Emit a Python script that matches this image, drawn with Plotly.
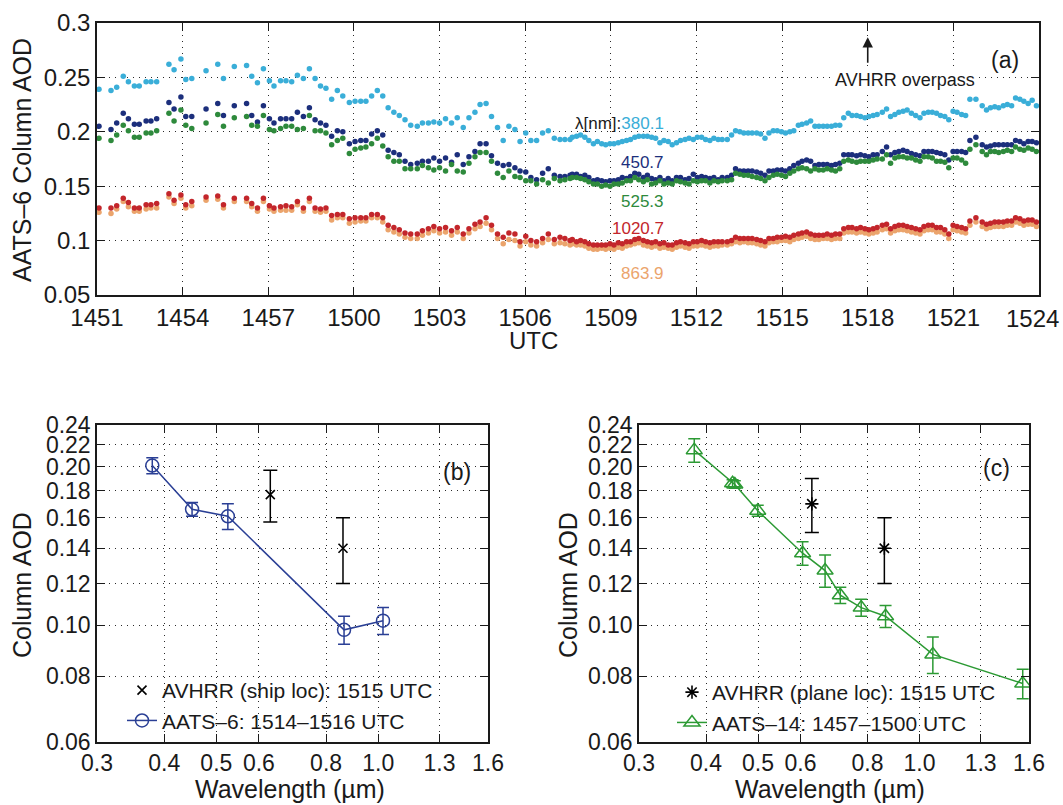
import plotly.graph_objects as go
import math

FONT = "Liberation Sans, Arial, sans-serif"

# ---------------- panel (a): AATS-6 column AOD time series ----------------
# time in minutes after 14:00 UTC
utc_min = [
    51.07, 51.49, 51.69, 51.92, 52.10, 52.31, 52.48, 52.72, 52.89, 53.09,
    53.52, 53.70, 53.94, 54.11, 54.32, 54.82, 55.23, 55.43, 55.81, 56.24,
    56.42, 56.62,
    56.83, 57.04, 57.20, 57.43, 57.62, 57.82, 58.02, 58.23, 58.44, 58.64,
    58.83, 59.02, 59.22, 59.42, 59.61, 59.84, 60.04, 60.24, 60.42, 60.62,
    60.82, 61.01, 61.20, 61.40, 61.59, 61.79, 61.99,
    62.22, 62.40, 62.61, 62.80, 63.00, 63.21, 63.42, 63.62, 63.83, 64.03,
    64.24, 64.42, 64.63, 64.82, 65.03, 65.23, 65.43, 65.64, 65.82, 66.02,
    66.20, 66.40, 66.61, 66.81, 67.02, 67.22, 67.39, 67.57,
    67.65, 67.80, 67.94, 68.09, 68.23, 68.39, 68.53, 68.68, 68.82, 68.97,
    69.11, 69.26, 69.40, 69.55, 69.69, 69.84, 69.98, 70.14, 70.28, 70.43,
    70.57, 70.72, 70.86, 71.01, 71.15, 71.30, 71.44, 71.60, 71.74, 71.89,
    72.03, 72.18, 72.32, 72.47, 72.61, 72.76, 72.90,
    73.08, 73.23, 73.37, 73.52, 73.66, 73.81, 73.95, 74.11, 74.25, 74.40,
    74.54, 74.69, 74.83, 74.98, 75.12, 75.27, 75.41, 75.57, 75.70, 75.86,
    76.00, 76.15, 76.29, 76.44, 76.58, 76.73, 76.87, 77.02, 77.16, 77.32,
    77.45, 77.61, 77.75, 77.90, 78.04, 78.19, 78.33,
    78.51, 78.66, 78.80, 78.95, 79.09, 79.24, 79.38, 79.53, 79.68, 79.83,
    79.97, 80.12, 80.26, 80.41, 80.55, 80.70, 80.84, 80.99, 81.13, 81.29,
    81.43, 81.58, 81.79, 82.01, 82.16, 82.30, 82.45, 82.59, 82.75, 82.89,
    83.04, 83.18, 83.33, 83.47, 83.62, 83.76, 83.91,
]

aod_380 = [
    0.239, 0.238, 0.241, 0.251, 0.246, 0.242, 0.242, 0.246, 0.246, 0.246,
    0.262, 0.257, 0.267, 0.248, 0.249, 0.256, 0.262, 0.249, 0.260, 0.261,
    0.251, 0.245,
    0.258, 0.247, 0.242, 0.247, 0.247, 0.246, 0.252, 0.249, 0.258, 0.249,
    0.242, 0.240, 0.230, 0.238, 0.233, 0.227, 0.228, 0.228, 0.228, 0.233,
    0.238, 0.233, 0.222, 0.218, 0.215, 0.211, 0.206,
    0.205, 0.208, 0.208, 0.209, 0.208, 0.212, 0.208, 0.213, 0.204, 0.213,
    0.218, 0.225, 0.226, 0.214, 0.204, 0.192, 0.205, 0.202, 0.191, 0.199,
    0.192, 0.192, 0.199, 0.201, 0.194, 0.193, 0.193, 0.193,
    0.195, 0.196, 0.197, 0.195, 0.192, 0.189, 0.191, 0.189, 0.188, 0.189,
    0.189, 0.190, 0.191, 0.192, 0.193, 0.195, 0.196, 0.196, 0.196, 0.195,
    0.194, 0.190, 0.192, 0.191, 0.188, 0.190, 0.192, 0.193, 0.194, 0.193,
    0.195, 0.195, 0.193, 0.192, 0.194, 0.193, 0.193,
    0.193, 0.197, 0.201, 0.200, 0.199, 0.199, 0.199, 0.199, 0.198, 0.194,
    0.199, 0.201, 0.201, 0.200, 0.199, 0.200, 0.201, 0.206, 0.207, 0.208,
    0.210, 0.205, 0.205, 0.205, 0.205, 0.205, 0.206, 0.206, 0.213, 0.217,
    0.215, 0.215, 0.214, 0.213, 0.214, 0.215, 0.216,
    0.218, 0.221, 0.214, 0.216, 0.218, 0.219, 0.220, 0.217, 0.215, 0.213,
    0.217, 0.218, 0.218, 0.217, 0.215, 0.214, 0.211, 0.219, 0.218, 0.216,
    0.215, 0.230, 0.230, 0.224, 0.220, 0.222, 0.223, 0.222, 0.224, 0.225,
    0.224, 0.231, 0.230, 0.228, 0.226, 0.229, 0.224,
]

aod_451 = [
    0.205, 0.202, 0.208, 0.217, 0.212, 0.207, 0.207, 0.210, 0.210, 0.212,
    0.227, 0.221, 0.232, 0.214, 0.214, 0.221, 0.226, 0.215, 0.224, 0.226,
    0.215, 0.209,
    0.224, 0.212, 0.208, 0.212, 0.212, 0.212, 0.218, 0.214, 0.222, 0.211,
    0.208, 0.206, 0.196, 0.201, 0.200, 0.189, 0.191, 0.192, 0.192, 0.198,
    0.201, 0.197, 0.183, 0.181, 0.179, 0.173, 0.170,
    0.171, 0.173, 0.173, 0.176, 0.173, 0.176, 0.172, 0.179, 0.170, 0.177,
    0.182, 0.189, 0.189, 0.178, 0.171, 0.169, 0.170, 0.167, 0.164, 0.163,
    0.158, 0.156, 0.162, 0.166, 0.160, 0.159, 0.159, 0.160,
    0.161, 0.161, 0.159, 0.160, 0.158, 0.155, 0.156, 0.155, 0.154, 0.155,
    0.155, 0.156, 0.158, 0.157, 0.159, 0.162, 0.161, 0.158, 0.160, 0.157,
    0.156, 0.158, 0.155, 0.157, 0.155, 0.158, 0.158, 0.156, 0.157, 0.161,
    0.158, 0.159, 0.158, 0.157, 0.158, 0.156, 0.158,
    0.158, 0.160, 0.166, 0.164, 0.164, 0.164, 0.164, 0.163, 0.162, 0.160,
    0.164, 0.164, 0.165, 0.165, 0.164, 0.166, 0.169, 0.171, 0.173, 0.174,
    0.173, 0.169, 0.170, 0.170, 0.170, 0.169, 0.170, 0.171, 0.179, 0.179,
    0.179, 0.178, 0.179, 0.178, 0.177, 0.179, 0.179,
    0.182, 0.186, 0.179, 0.181, 0.182, 0.183, 0.182, 0.180, 0.179, 0.178,
    0.182, 0.182, 0.182, 0.181, 0.180, 0.179, 0.174, 0.182, 0.182, 0.182,
    0.181, 0.192, 0.195, 0.188, 0.186, 0.187, 0.188, 0.188, 0.188, 0.188,
    0.188, 0.192, 0.191, 0.189, 0.191, 0.191, 0.190,
]

aod_525 = [
    0.194, 0.192, 0.197, 0.206, 0.201, 0.195, 0.195, 0.199, 0.199, 0.201,
    0.217, 0.210, 0.220, 0.206, 0.203, 0.208, 0.216, 0.205, 0.213, 0.214,
    0.206, 0.205,
    0.215, 0.202, 0.201, 0.203, 0.205, 0.205, 0.202, 0.203, 0.215, 0.201,
    0.201, 0.199, 0.188, 0.192, 0.194, 0.180, 0.184, 0.185, 0.186, 0.189,
    0.194, 0.187, 0.177, 0.173, 0.173, 0.166, 0.166,
    0.166, 0.169, 0.167, 0.165, 0.167, 0.164, 0.170, 0.164, 0.163, 0.171,
    0.177, 0.181, 0.181, 0.173, 0.162, 0.158, 0.164, 0.159, 0.158, 0.155,
    0.155, 0.152, 0.156, 0.153, 0.157, 0.155, 0.156, 0.157,
    0.158, 0.158, 0.157, 0.156, 0.154, 0.152, 0.152, 0.150, 0.151, 0.150,
    0.152, 0.152, 0.153, 0.155, 0.155, 0.158, 0.156, 0.154, 0.156, 0.152,
    0.153, 0.155, 0.152, 0.153, 0.152, 0.155, 0.154, 0.153, 0.152, 0.155,
    0.154, 0.155, 0.155, 0.153, 0.155, 0.154, 0.155,
    0.155, 0.156, 0.162, 0.161, 0.160, 0.160, 0.159, 0.158, 0.157, 0.155,
    0.158, 0.160, 0.161, 0.160, 0.159, 0.162, 0.164, 0.166, 0.167, 0.166,
    0.164, 0.166, 0.165, 0.165, 0.166, 0.165, 0.164, 0.166, 0.173, 0.174,
    0.173, 0.172, 0.173, 0.173, 0.173, 0.174, 0.175,
    0.175, 0.179, 0.171, 0.176, 0.177, 0.177, 0.176, 0.176, 0.174, 0.173,
    0.177, 0.177, 0.176, 0.173, 0.173, 0.172, 0.167, 0.176, 0.176, 0.174,
    0.171, 0.184, 0.188, 0.182, 0.179, 0.182, 0.182, 0.181, 0.182, 0.183,
    0.182, 0.186, 0.184, 0.183, 0.185, 0.184, 0.182,
]

aod_864 = [
    0.126, 0.125, 0.129, 0.136, 0.131, 0.127, 0.127, 0.129, 0.130, 0.130,
    0.140, 0.134, 0.139, 0.130, 0.132, 0.137, 0.138, 0.130, 0.136, 0.136,
    0.131, 0.127,
    0.136, 0.129, 0.127, 0.128, 0.128, 0.128, 0.133, 0.127, 0.136, 0.127,
    0.126, 0.127, 0.119, 0.121, 0.121, 0.116, 0.117, 0.118, 0.118, 0.121,
    0.121, 0.117, 0.110, 0.108, 0.106, 0.103, 0.102,
    0.102, 0.105, 0.107, 0.109, 0.107, 0.108, 0.105, 0.108, 0.102, 0.107,
    0.111, 0.113, 0.116, 0.110, 0.102, 0.097, 0.101, 0.100, 0.095, 0.099,
    0.096, 0.095, 0.098, 0.101, 0.097, 0.098, 0.097, 0.096,
    0.097, 0.096, 0.096, 0.095, 0.093, 0.092, 0.092, 0.093, 0.092, 0.093,
    0.092, 0.094, 0.093, 0.095, 0.096, 0.097, 0.098, 0.096, 0.095, 0.094,
    0.095, 0.093, 0.094, 0.093, 0.092, 0.094, 0.095, 0.094, 0.093, 0.095,
    0.095, 0.096, 0.095, 0.094, 0.095, 0.095, 0.096,
    0.096, 0.097, 0.099, 0.098, 0.099, 0.098, 0.098, 0.097, 0.096, 0.095,
    0.098, 0.099, 0.099, 0.100, 0.100, 0.099, 0.101, 0.102, 0.103, 0.104,
    0.102, 0.101, 0.101, 0.102, 0.102, 0.101, 0.102, 0.102, 0.107, 0.108,
    0.108, 0.107, 0.108, 0.107, 0.106, 0.107, 0.108,
    0.110, 0.111, 0.107, 0.109, 0.110, 0.110, 0.109, 0.108, 0.107, 0.106,
    0.109, 0.110, 0.110, 0.108, 0.108, 0.106, 0.102, 0.110, 0.109, 0.108,
    0.107, 0.114, 0.117, 0.113, 0.111, 0.112, 0.113, 0.113, 0.113, 0.114,
    0.114, 0.117, 0.116, 0.114, 0.115, 0.115, 0.113,
]

aod_1021 = [
    0.130, 0.130, 0.132, 0.139, 0.135, 0.130, 0.130, 0.133, 0.133, 0.134,
    0.143, 0.137, 0.142, 0.133, 0.136, 0.140, 0.141, 0.133, 0.139, 0.139,
    0.134, 0.130,
    0.139, 0.132, 0.130, 0.131, 0.132, 0.131, 0.136, 0.130, 0.139, 0.130,
    0.129, 0.130, 0.123, 0.124, 0.124, 0.120, 0.121, 0.121, 0.121, 0.124,
    0.124, 0.121, 0.114, 0.112, 0.110, 0.107, 0.106,
    0.106, 0.109, 0.111, 0.113, 0.111, 0.112, 0.109, 0.112, 0.106, 0.111,
    0.115, 0.117, 0.121, 0.114, 0.106, 0.103, 0.107, 0.106, 0.099, 0.104,
    0.100, 0.099, 0.102, 0.106, 0.101, 0.103, 0.102, 0.100,
    0.101, 0.099, 0.100, 0.099, 0.097, 0.096, 0.096, 0.096, 0.096, 0.097,
    0.096, 0.098, 0.097, 0.099, 0.099, 0.101, 0.102, 0.100, 0.099, 0.098,
    0.099, 0.097, 0.098, 0.096, 0.096, 0.098, 0.099, 0.098, 0.097, 0.099,
    0.099, 0.100, 0.099, 0.098, 0.099, 0.099, 0.099,
    0.099, 0.100, 0.103, 0.102, 0.102, 0.102, 0.102, 0.101, 0.100, 0.099,
    0.102, 0.102, 0.103, 0.103, 0.104, 0.103, 0.105, 0.106, 0.107, 0.108,
    0.106, 0.105, 0.105, 0.105, 0.106, 0.105, 0.106, 0.106, 0.111, 0.112,
    0.112, 0.111, 0.112, 0.111, 0.110, 0.111, 0.112,
    0.114, 0.115, 0.111, 0.113, 0.114, 0.114, 0.113, 0.112, 0.111, 0.110,
    0.113, 0.114, 0.114, 0.112, 0.112, 0.110, 0.106, 0.114, 0.113, 0.112,
    0.111, 0.118, 0.121, 0.117, 0.115, 0.116, 0.117, 0.117, 0.117, 0.118,
    0.118, 0.121, 0.120, 0.118, 0.119, 0.119, 0.117,
]

for s in (aod_380, aod_451, aod_525, aod_864, aod_1021):
    assert len(s) == len(utc_min)

utc_ticks = [51, 54, 57, 60, 63, 66, 69, 72, 75, 78, 81, 84]
utc_labels = ["1451", "1454", "1457", "1500", "1503", "1506", "1509",
              "1512", "1515", "1518", "1521", "1524"]
aod_ticks_a = [0.05, 0.10, 0.15, 0.20, 0.25, 0.30]
aod_labels_a = ["0.05", "0.1", "0.15", "0.2", "0.25", "0.3"]
overpass_min = 78

# ---------------- panels (b) and (c): AOD spectra ----------------
aats6_wl = [0.3801, 0.4507, 0.5253, 0.8639, 1.0207]
aats6_aod = [0.201, 0.166, 0.161, 0.098, 0.102]
aats6_err = [0.007, 0.005, 0.009, 0.006, 0.006]

avhrr_ship_wl = [0.63, 0.86]
avhrr_ship_aod = [0.177, 0.140]
avhrr_ship_err = [0.020, 0.020]

aats14_wl = [0.3803, 0.4483, 0.4526, 0.4994, 0.6054, 0.6668, 0.7118,
             0.7786, 0.8644, 1.0590, 1.5575]
aats14_aod = [0.215, 0.186, 0.185, 0.165, 0.137, 0.127, 0.114,
              0.108, 0.104, 0.088, 0.0775]
aats14_err = [0.011, 0.003, 0.003, 0.004, 0.007, 0.009, 0.004,
              0.004, 0.005, 0.007, 0.005]

avhrr_plane_wl = [0.63, 0.86]
avhrr_plane_aod = [0.170, 0.140]
avhrr_plane_err = [0.020, 0.020]

wl_ticks = [0.3, 0.4, 0.5, 0.6, 0.8, 1.0, 1.3, 1.6]
wl_labels = ["0.3", "0.4", "0.5", "0.6", "0.8", "1.0", "1.3", "1.6"]
aod_ticks_bc = [0.06, 0.08, 0.10, 0.12, 0.14, 0.16, 0.18, 0.20, 0.22, 0.24]
aod_labels_bc = ["0.06", "0.08", "0.10", "0.12", "0.14", "0.16", "0.18",
                 "0.20", "0.22", "0.24"]

C380, C451, C525, C864, C1021 = "#3aaed8", "#1c2f7c", "#2e8a3c", "#eba46c", "#c3262b"
C_AATS6 = "#2a3f95"
C_AATS14 = "#2c9a34"

fig = go.Figure()

# panel (a)
for y, col in ((aod_380, C380), (aod_451, C451), (aod_525, C525),
               (aod_864, C864), (aod_1021, C1021)):
    fig.add_trace(go.Scatter(x=utc_min, y=y, mode="markers",
                             marker=dict(size=5.5, color=col),
                             showlegend=False, xaxis="x", yaxis="y"))

# panel (b)
fig.add_trace(go.Scatter(
    x=aats6_wl, y=aats6_aod, mode="lines+markers",
    name="AATS–6: 1514–1516 UTC",
    line=dict(color=C_AATS6, width=1.5),
    marker=dict(symbol="circle-open", size=13, color=C_AATS6, line=dict(width=1.5)),
    error_y=dict(type="data", array=aats6_err, color=C_AATS6, thickness=1.5, width=6),
    xaxis="x2", yaxis="y2", legend="legend", legendrank=2))
fig.add_trace(go.Scatter(
    x=avhrr_ship_wl, y=avhrr_ship_aod, mode="markers",
    name="AVHRR (ship loc): 1515 UTC",
    marker=dict(symbol="x-thin", size=9, color="black", line=dict(width=1.6, color="black")),
    error_y=dict(type="data", array=avhrr_ship_err, color="black", thickness=1.5, width=7),
    xaxis="x2", yaxis="y2", legend="legend", legendrank=1))

# panel (c)
fig.add_trace(go.Scatter(
    x=aats14_wl, y=aats14_aod, mode="lines+markers",
    name="AATS–14: 1457–1500 UTC",
    line=dict(color=C_AATS14, width=1.5),
    marker=dict(symbol="triangle-up-open", size=14, color=C_AATS14, line=dict(width=1.5)),
    error_y=dict(type="data", array=aats14_err, color=C_AATS14, thickness=1.5, width=6),
    xaxis="x3", yaxis="y3", legend="legend2", legendrank=2))
fig.add_trace(go.Scatter(
    x=avhrr_plane_wl, y=avhrr_plane_aod, mode="markers",
    name="AVHRR (plane loc): 1515 UTC",
    marker=dict(symbol="asterisk", size=11, color="black", line=dict(width=1.6, color="black")),
    error_y=dict(type="data", array=avhrr_plane_err, color="black", thickness=1.5, width=7),
    xaxis="x3", yaxis="y3", legend="legend2", legendrank=1))

W, H = 1063, 805
def px(x):
    return x / W
def py(y):
    return 1 - y / H

axis_common = dict(showline=True, mirror="ticks", linecolor="#1a1a1a", linewidth=1.5,
                   ticks="inside", ticklen=8, tickwidth=1.2, tickcolor="#1a1a1a",
                   showgrid=True, gridcolor="#2a2a2a", griddash="1px,5px", gridwidth=1.3,
                   zeroline=False, automargin=False, ticklabeloverflow="allow",
                   tickfont=dict(family=FONT, size=24, color="#1a1a1a"))
axis_bc = {**axis_common, "tickfont": dict(family=FONT, size=23, color="#1a1a1a")}

# the last time label sits at the page edge; it is drawn right-aligned below
utc_ticktext = utc_labels[:-1] + [""]

fig.update_layout(
    template="none",
    width=W, height=H, margin=dict(l=0, r=0, t=0, b=0, autoexpand=False),
    paper_bgcolor="white", plot_bgcolor="white",
    font=dict(family=FONT, color="#1a1a1a"),
    xaxis=dict(domain=[px(97), px(1039)], range=[51, 84], tickvals=utc_ticks,
               ticktext=utc_ticktext, anchor="y", **axis_common),
    yaxis=dict(domain=[py(295), py(23)], range=[0.05, 0.3], tickvals=aod_ticks_a,
               ticktext=aod_labels_a, anchor="x", **axis_common),
    xaxis2=dict(domain=[px(97), px(488)], type="log",
                range=[math.log10(0.3), math.log10(1.6)], tickvals=wl_ticks,
                ticktext=wl_labels, anchor="y2", **axis_bc),
    yaxis2=dict(domain=[py(742), py(425)], type="log",
                range=[math.log10(0.06), math.log10(0.24)], tickvals=aod_ticks_bc,
                ticktext=aod_labels_bc, anchor="x2", **axis_bc),
    xaxis3=dict(domain=[px(639), px(1029)], type="log",
                range=[math.log10(0.3), math.log10(1.6)], tickvals=wl_ticks,
                ticktext=wl_labels, anchor="y3", **axis_bc),
    yaxis3=dict(domain=[py(742), py(425)], type="log",
                range=[math.log10(0.06), math.log10(0.24)], tickvals=aod_ticks_bc,
                ticktext=aod_labels_bc, anchor="x3", **axis_bc),
    legend=dict(x=px(122), y=py(670), xanchor="left", yanchor="top",
                bgcolor="rgba(0,0,0,0)", borderwidth=0,
                font=dict(family=FONT, size=21, color="#1a1a1a")),
    legend2=dict(x=px(672), y=py(672), xanchor="left", yanchor="top",
                 bgcolor="rgba(0,0,0,0)", borderwidth=0,
                 font=dict(family=FONT, size=21, color="#1a1a1a")),
)

ann = []
def paper_text(txt, x, y, size, angle=0, xanchor="center"):
    ann.append(dict(text=txt, x=px(x), y=py(y), xref="paper", yref="paper",
                    xanchor=xanchor, yanchor="middle", textangle=angle,
                    showarrow=False, font=dict(family=FONT, size=size, color="#1a1a1a")))

# last UTC tick label, kept inside the page
paper_text(utc_labels[-1], 1061, 318, 24, xanchor="right")
# axis titles
paper_text("AATS–6 Column AOD", 22, 160, 25, -90)
paper_text("UTC", 533, 341, 24)
paper_text("Column AOD", 22, 585, 25, -90)
paper_text("Column AOD", 568, 585, 25, -90)
paper_text("Wavelength (µm)", 290, 789, 25)
paper_text("Wavelength (µm)", 830, 789, 25)
# panel labels
paper_text("(a)", 1005, 60, 23)
paper_text("(b)", 457, 472, 23)
paper_text("(c)", 996, 468, 23)

# wavelength labels in panel (a)
lab_x = 70.95
ann.append(dict(text=f"λ[nm]:<span style='color:{C380}'>380.1</span>", x=lab_x, y=0.208,
                xref="x", yref="y", xanchor="right", yanchor="middle", showarrow=False,
                font=dict(size=17, color="#1a1a1a")))
for txt, yv, col in (("450.7", 0.172, C451), ("525.3", 0.136, C525),
                     ("1020.7", 0.111, C1021), ("863.9", 0.070, C864)):
    ann.append(dict(text=txt, x=lab_x, y=yv, xref="x", yref="y", xanchor="right",
                    yanchor="middle", showarrow=False, font=dict(size=17, color=col)))
# overpass marker
ann.append(dict(x=overpass_min, y=0.287, ax=overpass_min, ay=0.262, xref="x", yref="y",
                axref="x", ayref="y", text="", showarrow=True, arrowhead=2,
                arrowsize=1.3, arrowwidth=1.6, arrowcolor="#1a1a1a"))
ann.append(dict(text="AVHRR overpass", x=79.3, y=0.2476, xref="x", yref="y",
                xanchor="center", yanchor="middle", showarrow=False, bgcolor="white",
                font=dict(size=18, color="#1a1a1a")))

fig.update_layout(annotations=ann)
fig.write_html("out.html")
